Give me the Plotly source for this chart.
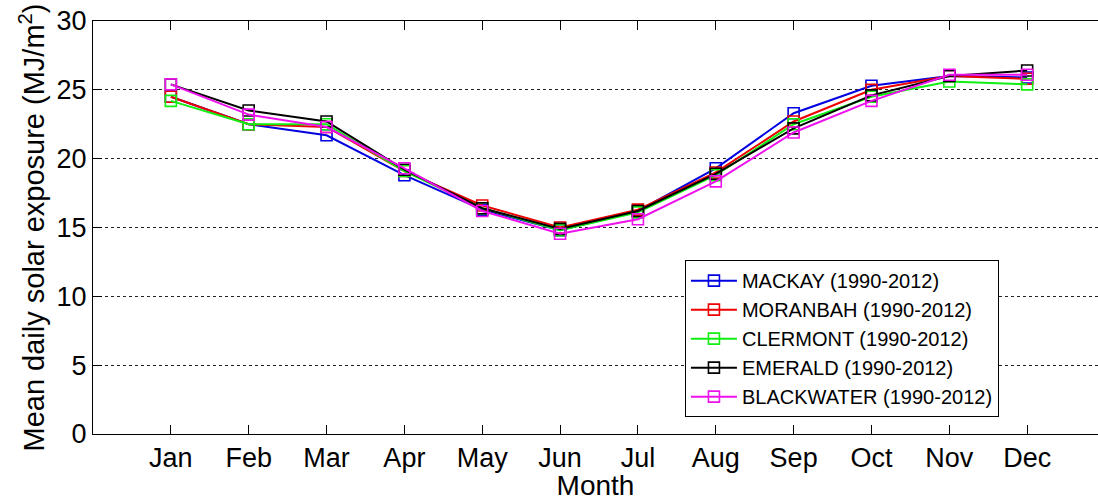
import plotly.graph_objects as go

months = ["Jan", "Feb", "Mar", "Apr", "May", "Jun",
          "Jul", "Aug", "Sep", "Oct", "Nov", "Dec"]
month_pos = list(range(1, 13))

mackay = [24.5, 22.5, 21.7, 18.8, 16.3, 14.8, 16.2, 19.3, 23.3, 25.3, 26.0, 25.9]
moranbah = [24.5, 22.5, 22.3, 19.1, 16.6, 15.0, 16.3, 19.0, 22.7, 25.0, 26.0, 25.8]
clermont = [24.2, 22.5, 22.5, 19.1, 16.4, 14.8, 16.1, 18.8, 22.5, 24.5, 25.6, 25.4]
emerald = [25.4, 23.5, 22.7, 19.2, 16.4, 14.9, 16.2, 18.9, 22.2, 24.6, 26.0, 26.4]
blackwater = [25.4, 23.2, 22.3, 19.3, 16.2, 14.55, 15.6, 18.35, 21.9, 24.2, 26.1, 26.1]

series = [
    ("MACKAY (1990-2012)", mackay, "#0000e0"),
    ("MORANBAH (1990-2012)", moranbah, "#ee0000"),
    ("CLERMONT (1990-2012)", clermont, "#11ee11"),
    ("EMERALD (1990-2012)", emerald, "#000000"),
    ("BLACKWATER (1990-2012)", blackwater, "#ee11ee"),
]

FONT = "Liberation Sans, Arial, sans-serif"

fig = go.Figure()
for name, vals, color in series:
    fig.add_trace(go.Scatter(
        x=month_pos, y=vals, name=name, mode="lines+markers",
        line=dict(color=color, width=2),
        marker=dict(symbol="square-open", size=11,
                    line=dict(color=color, width=1.6)),
    ))

fig.update_layout(
    width=1098, height=501,
    margin=dict(l=93, r=0, t=21, b=67),
    paper_bgcolor="white", plot_bgcolor="white",
    font=dict(family=FONT, color="black", size=27),
    showlegend=True,
    legend=dict(
        x=0.589, y=0.421, xanchor="left", yanchor="top",
        bgcolor="white", bordercolor="black", borderwidth=1,
        font=dict(family=FONT, size=20, color="black"),
        tracegroupgap=0, itemwidth=46,
    ),
)

fig.update_xaxes(
    range=[0, 12.91], tickmode="array", tickvals=month_pos, ticktext=months,
    ticks="inside", ticklen=9, tickcolor="black", tickwidth=1,
    showline=True, linecolor="black", linewidth=1, mirror="ticks",
    showgrid=False, zeroline=False,
    tickfont=dict(size=27),
    title=dict(text="Month", font=dict(size=28), standoff=0),
)
fig.update_yaxes(
    range=[0, 30], dtick=5, tick0=0,
    ticks="inside", ticklen=9, tickcolor="black", tickwidth=1,
    showline=True, linecolor="black", linewidth=1, mirror=False,
    showgrid=True, gridcolor="#222222", gridwidth=1, griddash="3px,3px",
    zeroline=False,
    tickfont=dict(size=27),
    title=dict(text="Mean daily solar exposure (MJ/m<sup>2</sup>)",
               font=dict(size=29), standoff=3),
)

fig.write_html("out.html")
